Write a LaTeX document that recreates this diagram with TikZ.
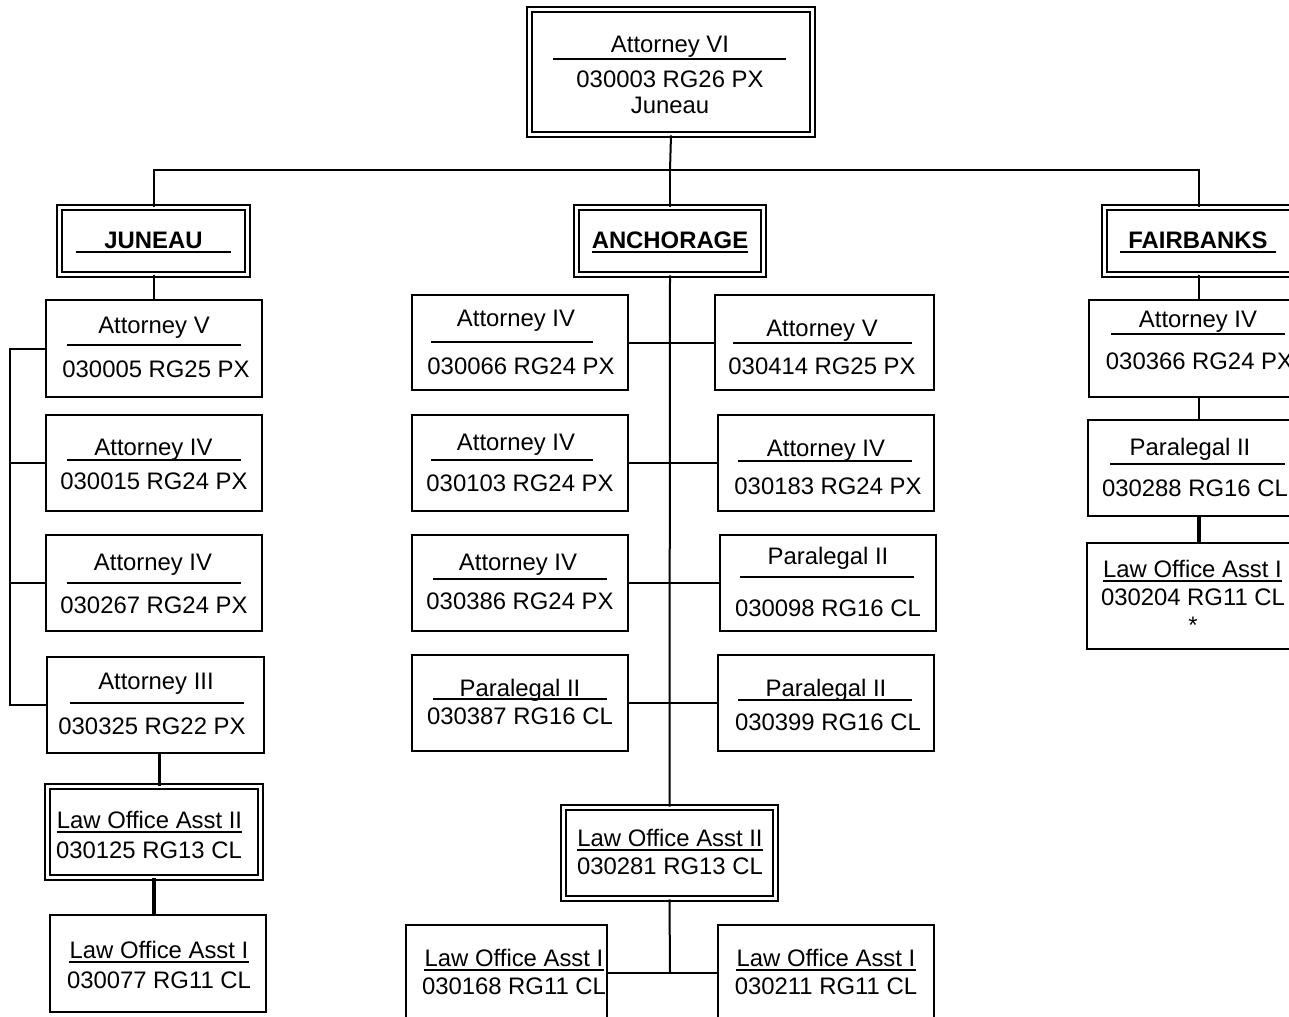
\documentclass[tikz,border=0pt]{standalone}
\usepackage{fontspec}
\setmainfont{Liberation Sans}
\usetikzlibrary{fit}
\begin{document}
\begin{tikzpicture}[x=0.75pt,y=-0.75pt,
  box/.style={draw,line width=1.4pt,inner sep=0pt},
  dbox/.style={draw,double,double distance=2.6pt,line width=1.2pt,inner sep=0pt},
  lbl/.style={anchor=base,inner sep=0pt,font=\fontsize{17.9pt}{21pt}\selectfont},
  blbl/.style={lbl,font=\fontsize{17.9pt}{21pt}\selectfont\bfseries},
  sep/.style={line width=1.1pt},
  conn/.style={line width=1.5pt},
  thk/.style={line width=2.3pt}]
\path[use as bounding box,clip] (0,0) rectangle (1289,1017);
\fill[white] (0,0) rectangle (1289,1017);

% ---------- top ----------
\node[dbox,fit={(529.5,9.5)(812.5,134.5)}] (top) {};
\node[lbl] (top1) at (670,52) {Attorney VI};
\draw[sep] (553,59) -- (786,59);
\node[lbl] (top2) at (670,87) {030003 RG26 PX};
\node[lbl] (top3) at (670,113) {Juneau};

% ---------- office headers ----------
\node[dbox,fit={(59.5,207.5)(247.5,274.5)}] (jun) {};
\node[blbl] (junt) at (153.5,248) {JUNEAU};
\draw[sep] (76,252) -- (231,252);
\node[dbox,fit={(576.5,207.5)(763.5,274.5)}] (anc) {};
\node[blbl] (anct) at (670,248) {ANCHORAGE};
\draw[sep] (592,252) -- (748,252);
\node[dbox,fit={(1104.5,207.5)(1293.5,274.5)}] (fai) {};
\node[blbl] (fait) at (1198,248) {FAIRBANKS};
\draw[sep] (1120,252) -- (1276,252);

\coordinate (hub) at (670,170);
\draw[conn] (top.south) -- (hub);
\draw[conn] (jun.north) |- (hub) -| (fai.north);
\draw[conn] (hub) -- (anc.north);

% ---------- Juneau column ----------
\node[box,fit={(46,300)(262,397)}] (j1) {};
\node[lbl] (j1a) at (154,333) {Attorney V};
\draw[sep] (67,345) -- (241,345);
\node[lbl] (j1b) at (156,377) {030005 RG25 PX};

\node[box,fit={(46,415)(262,511)}] (j2) {};
\node[lbl] (j2a) at (153.5,455) {Attorney IV};
\draw[sep] (67,460) -- (241,460);
\node[lbl] (j2b) at (154,489) {030015 RG24 PX};

\node[box,fit={(46,535)(262,631)}] (j3) {};
\node[lbl] (j3a) at (153,570) {Attorney IV};
\draw[sep] (67,583) -- (241,583);
\node[lbl] (j3b) at (154,613) {030267 RG24 PX};

\node[box,fit={(47,657)(264,753)}] (j4) {};
\node[lbl] (j4a) at (156,689) {Attorney III};
\draw[sep] (70,703) -- (244,703);
\node[lbl] (j4b) at (152,734) {030325 RG22 PX};

\node[dbox,fit={(47.5,786.5)(260.5,877.5)}] (j5) {};
\node[lbl] (j5a) at (149.5,828) {Law Office Asst II};
\draw[sep] ([yshift=-3pt]j5a.base west) -- ([yshift=-3pt]j5a.base east);
\node[lbl] (j5b) at (149,858) {030125 RG13 CL};

\node[box,fit={(50,915)(266,1012)}] (j6) {};
\node[lbl] (j6a) at (159,958) {Law Office Asst I};
\draw[sep] ([yshift=-3pt]j6a.base west) -- ([yshift=-3pt]j6a.base east);
\node[lbl] (j6b) at (159,988) {030077 RG11 CL};

\draw[conn] (jun.south) -- (jun.south |- j1.north);
\coordinate (jbar) at (10,705);
\draw[conn] (j1.west) -- (j1.west -| jbar) -- (jbar) -- (j4.west);
\draw[conn] (j2.west) -- (j2.west -| jbar);
\draw[conn] (j3.west) -- (j3.west -| jbar);
\draw[thk] ([xshift=3pt]j4.south) -- ([xshift=3pt]j4.south |- j5.north);
\draw[thk] (j5.south) -- (j5.south |- j6.north);

% ---------- Anchorage column ----------
\node[box,fit={(412,295)(628,390)}] (a1) {};
\node[lbl] (a1a) at (516,326) {Attorney IV};
\draw[sep] (431,342) -- (593,342);
\node[lbl] (a1b) at (521,374) {030066 RG24 PX};

\node[box,fit={(412,415)(628,511)}] (a2) {};
\node[lbl] (a2a) at (516,450) {Attorney IV};
\draw[sep] (431,460) -- (593,460);
\node[lbl] (a2b) at (520,491) {030103 RG24 PX};

\node[box,fit={(412,535)(628,631)}] (a3) {};
\node[lbl] (a3a) at (518,570) {Attorney IV};
\draw[sep] (433,579) -- (607,579);
\node[lbl] (a3b) at (520,609) {030386 RG24 PX};

\node[box,fit={(412,655)(628,751)}] (a4) {};
\node[lbl] (a4a) at (520,696) {Paralegal II};
\draw[sep] (433,699) -- (607,699);
\node[lbl] (a4b) at (520,724) {030387 RG16 CL};

\node[box,fit={(715,295)(934,390)}] (b1) {};
\node[lbl] (b1a) at (822,336) {Attorney V};
\draw[sep] (733,343) -- (912,343);
\node[lbl] (b1b) at (822,374) {030414 RG25 PX};

\node[box,fit={(718,415)(934,511)}] (b2) {};
\node[lbl] (b2a) at (826,456) {Attorney IV};
\draw[sep] (738,461) -- (912,461);
\node[lbl] (b2b) at (828,494) {030183 RG24 PX};

\node[box,fit={(720,535)(936,631)}] (b3) {};
\node[lbl] (b3a) at (828,564) {Paralegal II};
\draw[sep] (740,577) -- (914,577);
\node[lbl] (b3b) at (828,616) {030098 RG16 CL};

\node[box,fit={(718,655)(934,751)}] (b4) {};
\node[lbl] (b4a) at (826,696) {Paralegal II};
\draw[sep] (738,700) -- (912,700);
\node[lbl] (b4b) at (828,730) {030399 RG16 CL};

\node[dbox,fit={(563.5,807.5)(775.5,898.5)}] (a5) {};
\node[lbl] (a5a) at (670,846) {Law Office Asst II};
\draw[sep] ([yshift=-3pt]a5a.base west) -- ([yshift=-3pt]a5a.base east);
\node[lbl] (a5b) at (670,874) {030281 RG13 CL};

\node[box,fit={(406,925)(607,1020)}] (a6) {};
\node[lbl] (a6a) at (514,966) {Law Office Asst I};
\draw[sep] ([yshift=-3pt]a6a.base west) -- ([yshift=-3pt]a6a.base east);
\node[lbl] (a6b) at (514,994) {030168 RG11 CL};

\node[box,fit={(718,925)(934,1020)}] (b6) {};
\node[lbl] (b6a) at (826,966) {Law Office Asst I};
\draw[sep] ([yshift=-3pt]b6a.base west) -- ([yshift=-3pt]b6a.base east);
\node[lbl] (b6b) at (826,994) {030211 RG11 CL};

\draw[conn] (anc.south) -- (a5.north);
\draw[conn] (a1.east) -- (b1.west);
\draw[conn] (a2.east) -- (b2.west);
\draw[conn] (a3.east) -- (b3.west);
\draw[conn] (a4.east) -- (b4.west);
\coordinate (ahub) at (670,972.5);
\draw[conn] (a5.south) -- (ahub);
\draw[conn] (a6.east) -- (b6.west);

% ---------- Fairbanks column ----------
\node[box,fit={(1089,300)(1300,397)}] (f1) {};
\node[lbl] (f1a) at (1198,327) {Attorney IV};
\draw[sep] (1111,334) -- (1285,334);
\node[lbl] (f1b) at (1199.5,369) {030366 RG24 PX};

\node[box,fit={(1088,420)(1300,516)}] (f2) {};
\node[lbl] (f2a) at (1190,455) {Paralegal II};
\draw[sep] (1110,464) -- (1285,464);
\node[lbl] (f2b) at (1195,496) {030288 RG16 CL};

\node[box,fit={(1087,543)(1300,649)}] (f3) {};
\node[lbl] (f3a) at (1192.5,577) {Law Office Asst I};
\draw[sep] ([yshift=-3pt]f3a.base west) -- ([yshift=-3pt]f3a.base east);
\node[lbl] (f3b) at (1193,605) {030204 RG11 CL};
\node[lbl] (f3c) at (1193,633) {*};

\coordinate (fx) at (1199,0);
\draw[conn] (fai.south) -- (fai.south |- f1.north);
\draw[conn] (f1.south -| fx) -- (f2.north -| fx);
\draw[thk] (f2.south -| fx) -- (f3.north -| fx);
\end{tikzpicture}
\end{document}
